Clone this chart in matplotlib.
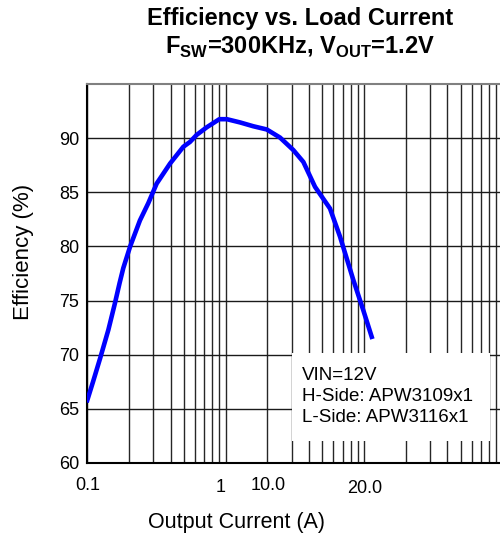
import matplotlib
matplotlib.use("Agg")
import matplotlib.pyplot as plt
from matplotlib.ticker import LogLocator, NullFormatter, FixedLocator
from matplotlib.patches import Rectangle
import matplotlib.transforms as mtransforms

plt.rcParams['font.family'] = ['Liberation Sans', 'DejaVu Sans']
plt.rcParams['mathtext.fontset'] = 'custom'
plt.rcParams['mathtext.rm'] = 'Liberation Sans'
plt.rcParams['mathtext.bf'] = 'Liberation Sans:bold'

# efficiency curve
current = [0.1, 0.11, 0.124, 0.142, 0.158, 0.171, 0.182, 0.204, 0.24, 0.276,
           0.317, 0.396, 0.494, 0.552, 0.617, 0.729, 0.9, 1.02, 1.27, 1.58,
           1.98, 2.47, 3.08, 3.64, 4.42, 5.67, 6.7, 8.36, 9.87, 11.35]
efficiency = [65.8, 67.5, 69.7, 72.3, 74.7, 76.6, 78.0, 80.0, 82.4, 84.0,
              85.8, 87.65, 89.2, 89.65, 90.3, 91.0, 91.75, 91.75, 91.45, 91.1,
              90.8, 90.05, 88.9, 87.8, 85.5, 83.5, 80.9, 76.9, 74.1, 71.65]

# the x tick labels sit at odd places in the original
xlab_pos = [0.1, 0.92, 2.02, 10.1]
xlab_txt = ["0.1", "1", "10.0", "20.0"]
xlab_drop = [23, 25, 23, 26]   # pixels below the axis

yticks = [60, 65, 70, 75, 80, 85, 90]
note = "VIN=12V\nH-Side: APW3109x1\nL-Side: APW3116x1"

fig = plt.figure(figsize=(5.0, 5.35), dpi=100)
ax = fig.add_axes([0.1746, 0.1346, 0.8304, 0.7084])

ax.set_xscale('log')
ax.set_xlim(0.1, 100)
ax.set_ylim(60, 95)
ax.xaxis.set_major_locator(LogLocator(base=10, subs=(1.0,)))
ax.xaxis.set_minor_locator(LogLocator(base=10, subs=range(2, 10)))
ax.xaxis.set_major_formatter(NullFormatter())
ax.xaxis.set_minor_formatter(NullFormatter())
ax.yaxis.set_major_locator(FixedLocator(yticks))
ax.set_yticklabels([str(v) for v in yticks])
ax.tick_params(axis='both', which='both', length=0)
ax.tick_params(axis='y', labelsize=13, pad=6)

ax.grid(True, which='both', axis='x', color='0.15', lw=1.0)
ax.grid(True, which='major', axis='y', color='0.1', lw=1.0)
ax.set_axisbelow(True)

for s in ['left', 'bottom']:
    ax.spines[s].set_color('black')
    ax.spines[s].set_linewidth(1.5)
ax.spines['top'].set_color('0.5')
ax.spines['top'].set_linewidth(1.5)
ax.spines['right'].set_visible(False)

ax.plot(current, efficiency, color='#0000ff', lw=3.3, solid_joinstyle='round', zorder=4)

# white note box over the grid
ax.add_patch(Rectangle((0.492, 0.058), 0.478, 0.233, transform=ax.transAxes,
                       facecolor='white', edgecolor='none', zorder=3))
ax.text(0.517, 0.253, note, transform=ax.transAxes, ha='left', va='top',
        fontsize=13.5, linespacing=1.3, zorder=5)

for xp, t, d in zip(xlab_pos, xlab_txt, xlab_drop):
    off = mtransforms.offset_copy(ax.get_xaxis_transform(), fig=fig, x=0, y=-d, units='dots')
    ax.text(xp, 0, t, transform=off, ha='center', va='center', fontsize=13)

fig.text(0.472, 0.024, "Output Current (A)", ha='center', va='center', fontsize=15.5)
fig.text(0.048, 0.529, "Efficiency (%)", ha='center', va='center', rotation=90, fontsize=16)

fig.text(0.6, 0.966, "Efficiency vs. Load Current", ha='center', va='center',
         fontsize=17, fontweight='bold')
fig.text(0.6, 0.912, r"F$_{\mathbf{SW}}$=300KHz, V$_{\mathbf{OUT}}$=1.2V", ha='center',
         va='center', fontsize=17, fontweight='bold')

fig.savefig("out.png", dpi=100)
